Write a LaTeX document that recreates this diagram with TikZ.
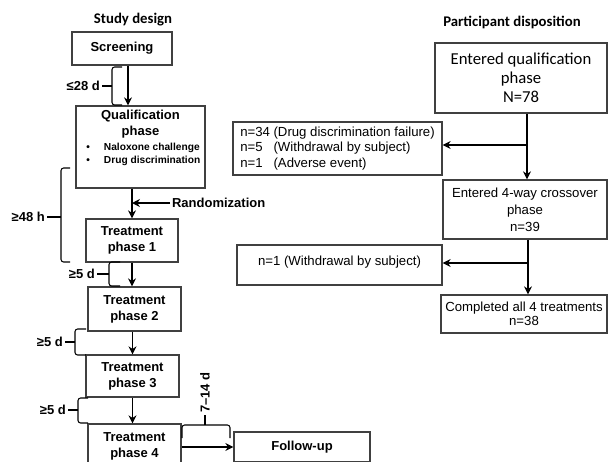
\documentclass[tikz,border=0pt]{standalone}
\usepackage{fontspec}
\setmainfont{Liberation Sans}
\newfontfamily\calfont{Carlito}
\usepackage{tikz}
\usetikzlibrary{arrows.meta}

\begin{document}
\begin{tikzpicture}[x=0.02cm, y=-0.02cm,
	box/.style={draw=black!75, line width=0.8pt, inner sep=0pt, align=center},
	lbox/.style={box, font=\bfseries\fontsize{7.4}{9}\selectfont},
	rbox/.style={box, font=\fontsize{7.5}{9.6}\selectfont},
	arr/.style={line width=0.9pt, -{Stealth[length=4.5pt, width=4.5pt]}},
	brace/.style={line width=0.6pt, rounded corners=1.5pt},
	gap/.style={font=\bfseries\fontsize{7.4}{9}\selectfont, inner sep=1pt},
	title/.style={font=\calfont\bfseries\fontsize{8.4}{10}\selectfont}]

	\useasboundingbox (0, 0) rectangle (609, 461);
	\clip (0, 0) rectangle (609, 461);

	% titles
	\node[title] (sdtitle) at (133, 20)   {Study design};
	\node[title] (pdtitle) at (512, 22)   {Participant disposition};

	% study design
	\node[lbox, minimum width=2cm, minimum height=0.66cm] (screen) at (122, 48.5) {Screening};
	\node[box, minimum width=2.58cm, minimum height=1.64cm] (qual) at (140.5, 147) {};
	\node[gap, align=center, anchor=north, inner sep=0pt] (qualtext) at (140.5, 110) {Qualification\\phase};
	\node[anchor=west, align=left, inner sep=0pt, font=\bfseries\fontsize{5.8}{7.4}\selectfont] (qualitems) at (86, 154.5)
		{\textbullet\hspace{8pt}Naloxone challenge\\\textbullet\hspace{8pt}Drug discrimination};
	\node[lbox, minimum width=1.84cm, minimum height=0.86cm] (treat1) at (132, 240.5)   {Treatment\\phase 1};
	\node[lbox, minimum width=1.86cm, minimum height=0.88cm] (treat2) at (134.5, 309)   {Treatment\\phase 2};
	\node[lbox, minimum width=1.86cm, minimum height=0.84cm] (treat3) at (132.5, 376)   {Treatment\\phase 3};
	\node[lbox, minimum width=1.86cm, minimum height=0.88cm] (treat4) at (134.5, 446)   {Treatment\\phase 4};
	\node[lbox, minimum width=2.72cm, minimum height=0.6cm] (follow) at (302, 447)     {Follow-up};
	\node[gap, anchor=west] (rand) at (170, 203)   {Randomization};

	\draw[arr] (screen.south -| 128, 0) -- (qual.north -| 128, 0);
	\draw[arr] (qual.south -| treat1.north) -- (treat1.north);
	\draw[arr] (rand.west) -- (rand.west -| treat1.north);
	\draw[arr] (treat1.south) -- (treat1.south |- treat2.north);
	\draw[arr] (treat3.north |- treat2.south) -- (treat3.north);
	\draw[arr] (treat3.south) -- (treat3.south |- treat4.north);
	\draw[arr] (treat4.east |- follow.west) -- (follow.west);

	% intervals
	\node[gap, anchor=east] (gap28) at (102, 86)    {≤28 d};
	\node[gap, anchor=east] (gap48) at (47, 217)    {≥48 h};
	\node[gap, anchor=east] (gap5a) at (97, 274)    {≥5 d};
	\node[gap, anchor=east] (gap5b) at (65, 342)    {≥5 d};
	\node[gap, anchor=east] (gap5c) at (68, 410)    {≥5 d};
	\node[gap, rotate=90, anchor=west] (gap7) at (205, 415)   {7–14 d};

	\coordinate (b28) at (112, 86);
	\coordinate (b48) at (61, 217);
	\coordinate (b5a) at (109, 274);
	\coordinate (b5b) at (75, 342);
	\coordinate (b5c) at (78, 410);
	\coordinate (b7) at (205, 425);

	\draw[brace] (122, 67) -- (112, 67) -- (112, 105) -- (122, 105);
	\draw[brace] (70, 168) -- (61, 168) -- (61, 262) -- (70, 262);
	\draw[brace] (120, 262) -- (109, 262) -- (109, 286) -- (120, 286);
	\draw[brace] (86, 329) -- (75, 329) -- (75, 355) -- (86, 355);
	\draw[brace] (88, 398) -- (78, 398) -- (78, 423) -- (88, 423);
	\draw[brace] (182, 438) -- (182, 425) -- (230, 425) -- (230, 438);

	\draw[brace] (gap28.east) -- (b28);
	\draw[brace] (gap48.east) -- (b48);
	\draw[brace] (gap5a.east) -- (b5a);
	\draw[brace] (gap5b.east) -- (b5b);
	\draw[brace] (gap5c.east) -- (b5c);
	\draw[brace] (gap7.west) -- (b7);

	% participant disposition
	\node[box, font=\calfont\fontsize{9.5}{10.8}\selectfont, minimum width=3.44cm, minimum height=1.4cm] (entqual) at (521, 78)
		{Entered qualification\\phase\\N=78};
	\node[rbox, minimum width=3.28cm, minimum height=1.18cm] (entcross) at (525, 209.5)
		{Entered 4-way crossover\\phase\\n=39};
	\node[rbox, font=\fontsize{7.5}{8}\selectfont, minimum width=3.32cm, minimum height=0.76cm] (complete) at (524, 314)
		{Completed all 4 treatments\\n=38};
	\node[rbox, minimum width=4.18cm, minimum height=1.06cm] (excl1) at (337.5, 148.5)
		{\fontsize{7.5}{8.8}\selectfont\begin{tabular}{@{}l@{\ }l@{}}
			n=34 & (Drug discrimination failure)\\
			n=5  & (Withdrawal by subject)\\
			n=1  & (Adverse event)
		\end{tabular}};
	\node[rbox, minimum width=4.1cm, minimum height=0.8cm, text height=6pt, text depth=6pt] (excl2) at (339.5, 265)
		{n=1 (Withdrawal by subject)};

	\coordinate (split1) at (527, 145);
	\coordinate (split2) at (528, 263);

	\draw[arr] (entqual.south -| split1) -- (entcross.north -| split1);
	\draw[arr] (split1) -- (split1 -| excl1.east);
	\draw[arr] (entcross.south -| split2) -- (complete.north -| split2);
	\draw[arr] (split2) -- (split2 -| excl2.east);

\end{tikzpicture}
\end{document}
